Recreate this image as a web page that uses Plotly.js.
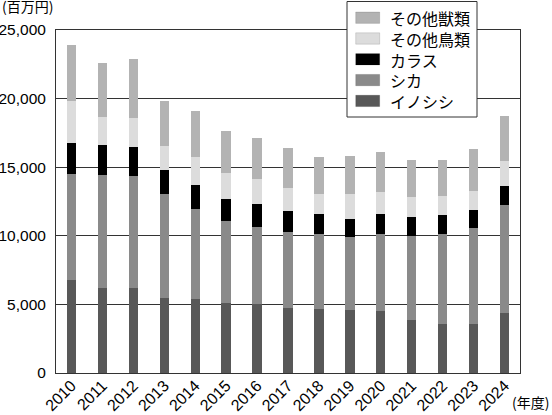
<!DOCTYPE html>
<html>
<head>
<meta charset="utf-8">
<script src="https://cdn.plot.ly/plotly-3.0.1.min.js"></script>
<style>html,body{margin:0;padding:0;background:#fff;}#chart{width:552px;height:415px;}</style>
</head>
<body>
<div id="chart"></div>
<script>
const years = ['2010','2011','2012','2013','2014','2015','2016','2017','2018','2019','2020','2021','2022','2023','2024'];
const inoshishi = [6750,6190,6190,5460,5420,5100,5030,4760,4690,4590,4520,3890,3600,3600,4400];
const shika     = [7750,8230,8190,7560,6500,5970,5630,5510,5410,5290,5630,6090,6530,6960,7870];
const karasu    = [2280,2220,2080,1800,1800,1630,1630,1510,1460,1370,1410,1360,1360,1340,1350];
const sonotaChorui = [3010,2040,2140,1740,2040,1870,1870,1700,1460,1820,1620,1510,1400,1360,1800];
const sonotaJurui  = [4130,3930,4320,3300,3350,3040,2990,2890,2740,2720,2900,2640,2650,3060,3300];
const yTicks = [0,5000,10000,15000,20000,25000];

const seriesNames = ['イノシシ','シカ','カラス','その他鳥類','その他獣類'];
const seriesData = [inoshishi, shika, karasu, sonotaChorui, sonotaJurui];
const seriesColors = ['#585858','#8a8a8a','#000000','#dcdcdc','#b3b3b3'];

const W = 552, H = 415;
const M = {l: 56, r: 32, t: 30, b: 42};
const PW = W - M.l - M.r, PH = H - M.t - M.b;
const px2x = p => (p - M.l) / PW;
const py2y = p => (H - M.b - p) / PH;

const font = "'Liberation Sans', Arial, 'Noto Sans CJK JP', sans-serif";
const jfont = "'Noto Sans CJK JP', 'Liberation Sans', sans-serif";

const traces = seriesData.map((d, i) => ({
  type: 'bar', x: years, y: d, name: seriesNames[i],
  marker: {color: seriesColors[i], line: {width: 0}},
  width: 0.3, hoverinfo: 'x+y+name'
}));

// custom legend (top to bottom: reversed series order)
const legendFont = 16;
const rowGap = legendFont * 1.3;
const rowTop = 17.7;
const shapes = [{
  type: 'rect', xref: 'paper', yref: 'paper',
  x0: px2x(347), x1: px2x(477), y0: py2y(117), y1: py2y(1.5),
  line: {color: '#333', width: 1}, fillcolor: '#fff', layer: 'above'
}];
const legendLines = [];
for (let k = 0; k < seriesNames.length; k++) {
  const i = seriesNames.length - 1 - k;
  const cy = rowTop + k * rowGap;
  shapes.push({
    type: 'rect', xref: 'paper', yref: 'paper',
    x0: px2x(355.7), x1: px2x(379.7), y0: py2y(cy + 5.7), y1: py2y(cy - 5.7),
    line: {color: 'rgba(0,0,0,0.25)', width: 0.5}, fillcolor: seriesColors[i], layer: 'above'
  });
  legendLines.push(seriesNames[i]);
}
const annotations = [
  {text: legendLines.join('<br>'), xref: 'paper', yref: 'paper',
   x: px2x(389), y: py2y(rowTop + 2 * rowGap), xanchor: 'left', yanchor: 'middle',
   align: 'left', showarrow: false, borderpad: 0,
   font: {family: jfont, size: legendFont, color: '#000'}},
  {text: '(百万円)', xref: 'paper', yref: 'paper', x: px2x(0), y: 1.0,
   xanchor: 'left', yanchor: 'bottom', yshift: 12, showarrow: false,
   font: {family: jfont, size: 14, color: '#000'}},
  {text: '(年度)', xref: 'paper', yref: 'paper', x: 1.0, y: 0,
   xanchor: 'right', yanchor: 'middle', xshift: 31, yshift: -29, showarrow: false,
   font: {family: jfont, size: 14, color: '#000'}}
];

const layout = {
  width: W, height: H,
  margin: M,
  paper_bgcolor: '#fff', plot_bgcolor: '#fff',
  barmode: 'stack',
  font: {family: font, size: 16, color: '#000'},
  showlegend: false,
  xaxis: {
    type: 'category', tickangle: -45, automargin: false,
    tickfont: {family: font, size: 16, color: '#000'},
    showline: true, linecolor: '#333', linewidth: 1, mirror: true,
    ticks: '', showgrid: false, fixedrange: true, ticklabelstandoff: -4
  },
  yaxis: {
    range: [0, 25000], tickvals: yTicks, tickformat: ',d', automargin: false,
    tickfont: {family: font, size: 15.5, color: '#000'},
    showline: true, linecolor: '#333', linewidth: 1, mirror: true,
    showgrid: true, gridcolor: '#333', gridwidth: 1,
    zeroline: false, ticks: '', ticklabelstandoff: 6, fixedrange: true
  },
  shapes: shapes,
  annotations: annotations
};

Plotly.newPlot('chart', traces, layout, {displayModeBar: false, staticPlot: true});
</script>
</body>
</html>
